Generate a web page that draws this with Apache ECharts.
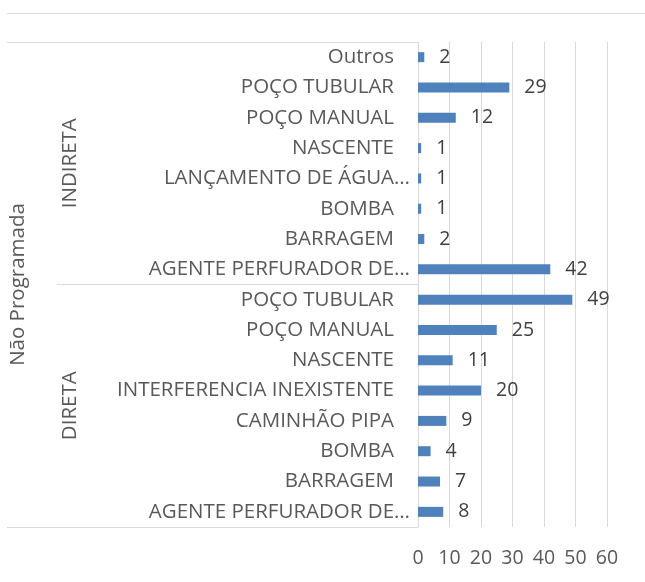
<!DOCTYPE html>
<html>
<head>
<meta charset="utf-8">
<script src="https://cdn.jsdelivr.net/npm/echarts@6/dist/echarts.min.js"></script>
<style>
  html, body { margin: 0; padding: 0; background: #fff; }
  #chart { width: 645px; height: 582px; }
</style>
</head>
<body>
<div id="chart"></div>
<script>
// top to bottom, as in the picture
const groups = ['INDIRETA', 'DIRETA']
const outerGroup = 'Não Programada'
const categories = [
  'INDIRETA|Outros',
  'INDIRETA|POÇO TUBULAR',
  'INDIRETA|POÇO MANUAL',
  'INDIRETA|NASCENTE',
  'INDIRETA|LANÇAMENTO DE ÁGUA…',
  'INDIRETA|BOMBA',
  'INDIRETA|BARRAGEM',
  'INDIRETA|AGENTE PERFURADOR DE…',
  'DIRETA|POÇO TUBULAR',
  'DIRETA|POÇO MANUAL',
  'DIRETA|NASCENTE',
  'DIRETA|INTERFERENCIA INEXISTENTE',
  'DIRETA|CAMINHÃO PIPA',
  'DIRETA|BOMBA',
  'DIRETA|BARRAGEM',
  'DIRETA|AGENTE PERFURADOR DE…'
]
const values = [2, 29, 12, 1, 1, 1, 2, 42, 49, 25, 11, 20, 9, 4, 7, 8]
const xTicks = { min: 0, max: 60, interval: 10 }

const font = 'Open Sans'
const textColor = '#595959'
const lineColor = '#d9d9d9'

const chart = echarts.init(document.getElementById('chart'))

// truncated labels sit closer to the axis, like Excel does
const catLabel = v => {
  const name = v.split('|')[1]
  return name.endsWith('…') ? '{t|' + name + '}' : '{n|' + name + '}'
}

const option = {
  animation: false,
  textStyle: { fontFamily: font },
  grid: { left: 418, right: 38, top: 42, bottom: 55 },
  xAxis: {
    type: 'value',
    min: xTicks.min,
    max: xTicks.max,
    interval: xTicks.interval,
    axisLine: { show: false },
    axisTick: { show: false },
    splitLine: { lineStyle: { color: lineColor, width: 1 } },
    axisLabel: { color: textColor, fontSize: 19.5, fontFamily: font, margin: 21 }
  },
  yAxis: [
    {
      type: 'category',
      inverse: true,
      data: categories,
      axisLine: { lineStyle: { color: lineColor } },
      axisTick: { show: false },
      axisLabel: {
        color: textColor,
        fontSize: 20.5,
        fontFamily: font,
        margin: 8,
        interval: 0,
        formatter: catLabel,
        rich: {
          n: { color: textColor, fontSize: 20.5, fontFamily: font, padding: [0, 16, 0, 0] },
          t: { color: textColor, fontSize: 20.5, fontFamily: font, padding: [0, 0, 0, 0] }
        }
      }
    },
    {
      type: 'category',
      inverse: true,
      position: 'left',
      data: groups,
      axisLine: { show: false },
      axisTick: { show: true, length: 361, lineStyle: { color: lineColor } },
      axisLabel: { color: textColor, fontSize: 20.5, fontFamily: font, rotate: 90, margin: 337, interval: 0 }
    },
    {
      type: 'category',
      inverse: true,
      position: 'left',
      data: [outerGroup],
      axisLine: { show: false },
      axisTick: { show: true, length: 411, lineStyle: { color: lineColor } },
      axisLabel: { color: textColor, fontSize: 20.5, fontFamily: font, rotate: 90, margin: 389, interval: 0 }
    }
  ],
  graphic: [
    {
      type: 'line',
      shape: { x1: 7, y1: 13.5, x2: 645, y2: 13.5 },
      style: { stroke: lineColor, lineWidth: 1 },
      silent: true
    }
  ],
  series: [
    {
      type: 'bar',
      yAxisIndex: 0,
      data: values,
      barWidth: 10,
      itemStyle: { color: '#4f81bd' },
      label: {
        show: true,
        position: 'right',
        distance: 15,
        color: '#404040',
        fontSize: 19.5,
        fontFamily: font
      }
    }
  ]
}

chart.setOption(option)
</script>
</body>
</html>
